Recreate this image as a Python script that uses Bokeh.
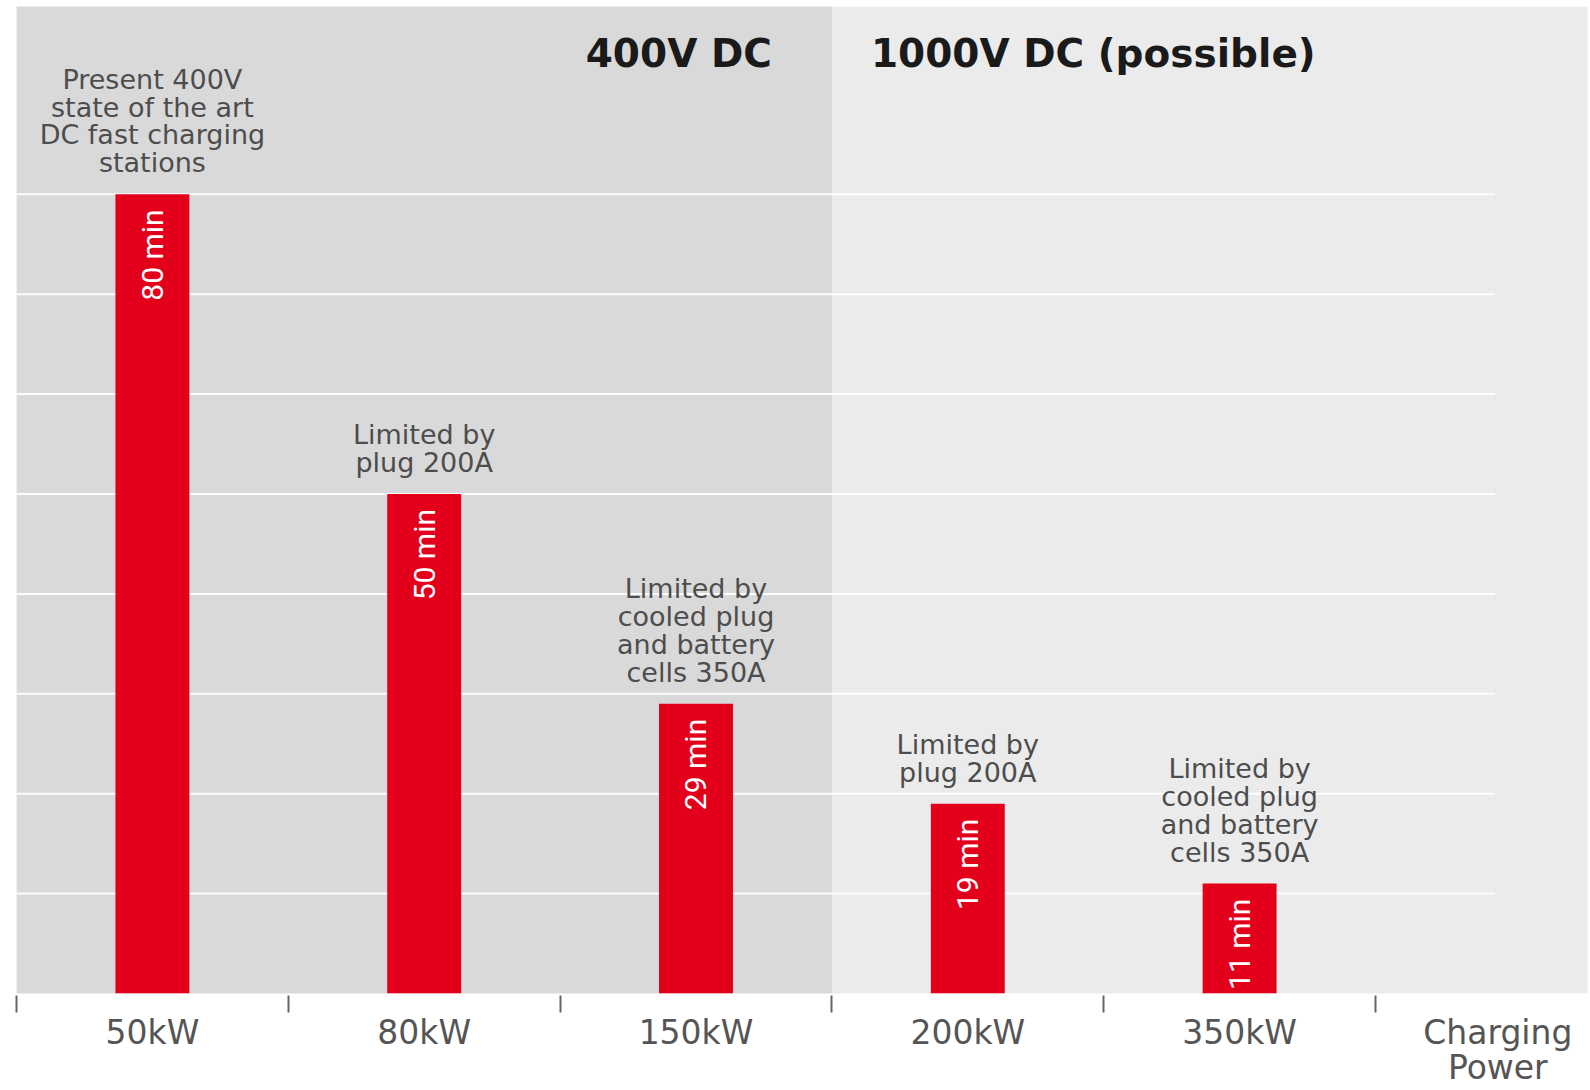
from bokeh.plotting import figure
from bokeh.models import ColumnDataSource, FixedTicker, Range1d
from bokeh.core.properties import value
from bokeh.embed import file_html
from bokeh.resources import INLINE

# ---- data ----
power = ["50kW", "80kW", "150kW", "200kW", "350kW"]
minutes = [80, 50, 29, 19, 11]
voltage = ["400V DC", "400V DC", "400V DC", "1000V DC (possible)", "1000V DC (possible)"]
notes = [
    "Present 400V\nstate of the art\nDC fast charging\nstations",
    "Limited by\nplug 200A",
    "Limited by\ncooled plug\nand battery\ncells 350A",
    "Limited by\nplug 200A",
    "Limited by\ncooled plug\nand battery\ncells 350A",
]
grid_minutes = [10, 20, 30, 40, 50, 60, 70, 80]
axis_title = "Charging\nPower"

# ---- derived ----
n = len(power)
centers = [i + 0.5 for i in range(n)]
bar_labels = [f"{m} min" for m in minutes]
regions = list(dict.fromkeys(voltage))
n_400 = voltage.count(regions[0])
X_END = 5.78
Y_END = 98.8
TITLE_POS = 5.45

p = figure(width=1590, height=1090, output_backend="svg", toolbar_location=None,
           x_range=Range1d(0, X_END), y_range=Range1d(0, Y_END),
           y_axis_location=None,
           min_border_left=16, min_border_right=3, min_border_top=6, min_border_bottom=96,
           background_fill_color="#ebebeb", border_fill_color="white", outline_line_color=None)
p.grid.visible = False

# dark 400V region
p.quad(left=[0], right=[n_400], bottom=[0], top=[Y_END], fill_color="#d9d9d9", line_color=None)

# grid lines
p.segment(x0=[0] * len(grid_minutes), x1=[5.44] * len(grid_minutes), y0=grid_minutes, y1=grid_minutes,
          line_color="white", line_width=2, line_alpha=0.9)

src = ColumnDataSource(dict(x=centers, top=minutes, lab=bar_labels, note=notes))
p.vbar(x="x", top="top", width=0.272, bottom=0, source=src, fill_color="#e3001b", line_color=None)

# bar value labels (rotated)
p.text(x="x", y="top", text="lab", source=src, angle=1.5708, text_align="right", text_baseline="middle",
       y_offset=15, text_color="white", text_font=value("Roboto"), text_font_size="30px")

# notes above bars
p.text(x="x", y="top", text="note", source=src, text_align="center", text_baseline="bottom",
       y_offset=-16, text_color="#4d4d4d", text_font=value("DejaVu Sans"), text_font_size="27px",
       text_line_height=0.9)

# region titles
p.text(x=[n_400], y=[94.1], text=[regions[0]], text_align="right", text_baseline="middle",
       x_offset=-60, text_color="#1a1a1a", text_font=value("DejaVu Sans"), text_font_style="bold",
       text_font_size="39px")
p.text(x=[n_400], y=[94.1], text=[regions[1]], text_align="left", text_baseline="middle",
       x_offset=39, text_color="#1a1a1a", text_font=value("DejaVu Sans"), text_font_style="bold",
       text_font_size="39px")

# x axis
ax = p.xaxis[0]
ax.ticker = FixedTicker(ticks=centers + [TITLE_POS], minor_ticks=list(range(n + 1)))
overrides = {c: lab for c, lab in zip(centers, power)}
overrides[TITLE_POS] = axis_title
ax.major_label_overrides = overrides
ax.major_tick_in = 0
ax.major_tick_out = 0
ax.minor_tick_in = -2
ax.minor_tick_out = 19
ax.minor_tick_line_color = "#666666"
ax.minor_tick_line_width = 2
ax.axis_line_color = None
ax.major_label_standoff = 0
ax.major_label_text_font = "DejaVu Sans"
ax.major_label_text_font_size = "33px"
ax.major_label_text_color = "#555555"
ax.major_label_text_line_height = 0.92

open("out.html", "w").write(file_html(p, INLINE))
